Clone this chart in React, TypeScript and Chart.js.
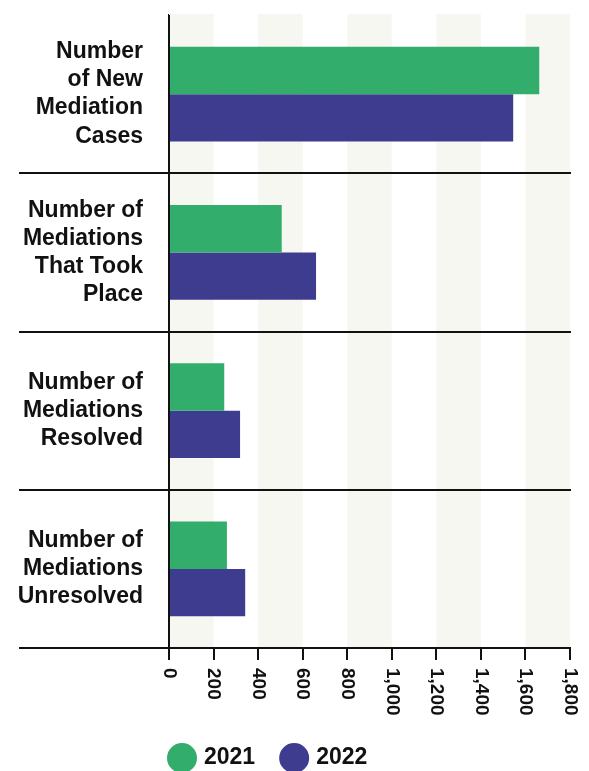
import { useEffect, useRef } from 'react';
import { Chart, registerables } from 'chart.js';

Chart.register(...registerables);

const FONT = '"Liberation Sans", Arial, sans-serif';

const categories: string[][] = [
  ['Number', 'of New', 'Mediation', 'Cases'],
  ['Number of', 'Mediations', 'That Took', 'Place'],
  ['Number of', 'Mediations', 'Resolved'],
  ['Number of', 'Mediations', 'Unresolved'],
];
const seriesNames = ['2021', '2022'];
const values2021 = [1662, 506, 248, 260];
const values2022 = [1545, 660, 319, 342];
const seriesColors = ['#33ad6b', '#3e3c8f'];
const xTickLabels = ['0', '200', '400', '600', '800', '1,000', '1,200', '1,400', '1,600', '1,800'];
const xMin = 0;
const xMax = 1800;
const xStep = 200;

const bandsPlugin = {
  id: 'bands',
  beforeDatasetsDraw(chart: any) {
    const { ctx, chartArea } = chart;
    const xs = chart.scales.x;
    ctx.save();
    ctx.fillStyle = '#f7f7f2';
    for (let v = xMin; v < xMax; v += xStep * 2) {
      const x1 = xs.getPixelForValue(v);
      const x2 = xs.getPixelForValue(Math.min(v + xStep, xMax));
      ctx.fillRect(x1, chartArea.top - 1, x2 - x1, chartArea.bottom - chartArea.top + 1);
    }
    ctx.restore();
  },
};

const overlayPlugin = {
  id: 'overlay',
  afterDraw(chart: any) {
    const { ctx, chartArea } = chart;
    const ys = chart.scales.y;
    const xs = chart.scales.x;
    ctx.save();
    ctx.strokeStyle = '#111';
    ctx.lineWidth = 2;
    // vertical axis line over the bars
    const ax = Math.round(xs.getPixelForValue(xMin));
    ctx.beginPath();
    ctx.moveTo(ax, chartArea.top);
    ctx.lineTo(ax, chartArea.bottom);
    ctx.stroke();
    // separators between categories
    const n = chart.data.labels.length;
    const seps: number[] = [];
    for (let i = 0; i < n - 1; i++) {
      seps.push((ys.getPixelForValue(i) + ys.getPixelForValue(i + 1)) / 2);
    }
    seps.push(chartArea.bottom);
    seps.forEach((y) => {
      ctx.beginPath();
      ctx.moveTo(19, Math.round(y));
      ctx.lineTo(chartArea.right + 1, Math.round(y));
      ctx.stroke();
    });
    // rotated x tick labels
    ctx.fillStyle = '#111';
    ctx.font = `bold 19px ${FONT}`;
    ctx.textAlign = 'left';
    ctx.textBaseline = 'middle';
    xTickLabels.forEach((lab, i) => {
      const x = xs.getPixelForValue(xMin + i * xStep);
      ctx.save();
      ctx.translate(x, chartArea.bottom + 20);
      ctx.rotate(Math.PI / 2);
      ctx.fillText(lab, 0, 0);
      ctx.restore();
    });
    // legend
    ctx.font = `bold 23px ${FONT}`;
    let lx = chartArea.left - 2;
    const cy = 758;
    const r = 15;
    chart.data.datasets.forEach((ds: any) => {
      ctx.fillStyle = ds.backgroundColor;
      ctx.beginPath();
      ctx.arc(lx + r, cy, r, 0, Math.PI * 2);
      ctx.fill();
      lx += 2 * r + 7;
      ctx.fillStyle = '#111';
      ctx.fillText(ds.label, lx, cy);
      lx += ctx.measureText(ds.label).width + 24;
    });
    ctx.restore();
  },
};

export default function App() {
  const ref = useRef<HTMLCanvasElement | null>(null);
  useEffect(() => {
    if (!ref.current) return;
    const chart = new Chart(ref.current, {
      type: 'bar',
      data: {
        labels: categories as any,
        datasets: [
          { label: seriesNames[0], data: values2021, backgroundColor: seriesColors[0], borderWidth: 0, barPercentage: 1, categoryPercentage: 0.6 },
          { label: seriesNames[1], data: values2022, backgroundColor: seriesColors[1], borderWidth: 0, barPercentage: 1, categoryPercentage: 0.6 },
        ],
      },
      options: {
        indexAxis: 'y',
        responsive: false,
        animation: false,
        devicePixelRatio: 1,
        layout: { padding: { top: 15, right: 19, left: 0, bottom: 0 } },
        plugins: { legend: { display: false }, tooltip: { enabled: false } },
        scales: {
          x: {
            min: xMin,
            max: xMax,
            ticks: { stepSize: xStep, display: false },
            grid: { drawOnChartArea: false, drawTicks: true, tickLength: 12, color: '#111', lineWidth: 2 },
            border: { display: true, color: '#111', width: 2 },
            afterFit: (s: any) => { s.height = 123; s.paddingLeft = 0; s.paddingRight = 0; },
          },
          y: {
            ticks: { color: '#111', font: { family: FONT, size: 23, weight: 'bold', lineHeight: 1.22 }, padding: 26 },
            grid: { display: false, drawTicks: false },
            border: { display: true, color: '#111', width: 2 },
            afterFit: (s: any) => { s.width = 169; s.paddingTop = 0; s.paddingBottom = 0; },
          },
        },
      } as any,
      plugins: [bandsPlugin, overlayPlugin],
    });
    return () => chart.destroy();
  }, []);
  return (
    <div style={{ position: 'fixed', left: 0, top: 0, width: 589, height: 771, background: '#fff' }}>
      <canvas ref={ref} width={589} height={771} />
    </div>
  );
}
